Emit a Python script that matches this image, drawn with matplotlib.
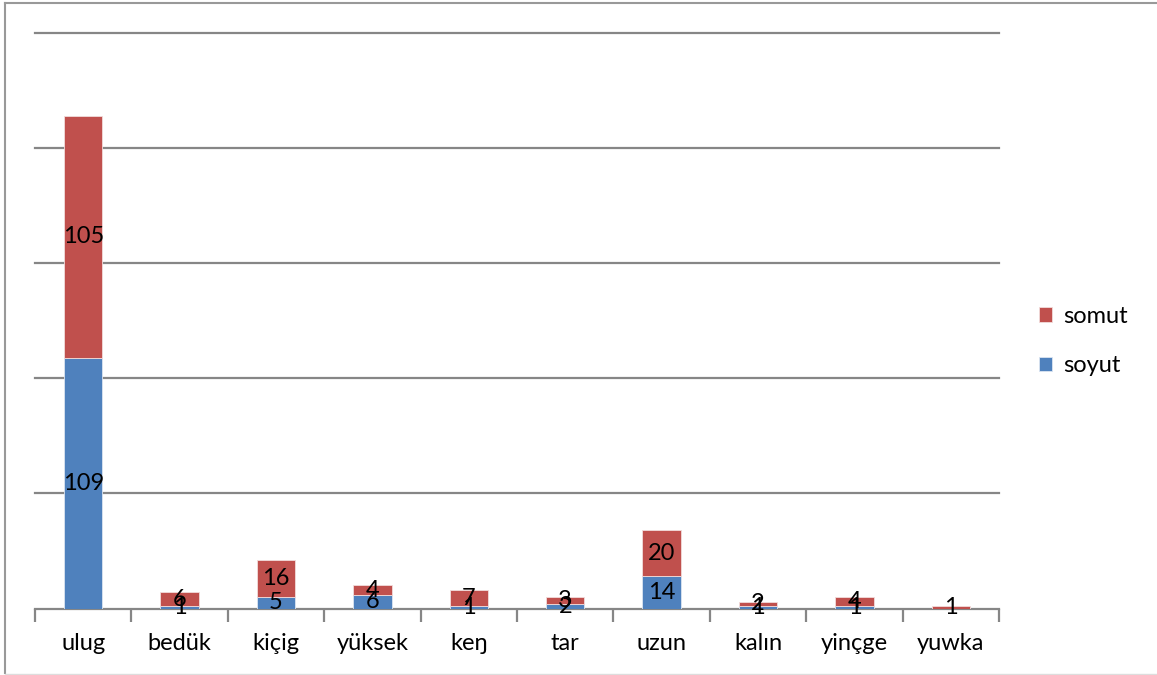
import matplotlib.pyplot as plt
from matplotlib.lines import Line2D
import numpy as np

plt.rcParams['font.family'] = ['Lato', 'DejaVu Sans']

categories = ['ulug', 'bedük', 'kiçig', 'yüksek', 'keŋ', 'tar', 'uzun', 'kalın', 'yinçge', 'yuwka']
soyut = [109, 1, 5, 6, 1, 2, 14, 1, 1, 0]
somut = [105, 6, 16, 4, 7, 3, 20, 2, 4, 1]

blue = '#4F81BD'
red = '#C0504D'
grid_c = '#868686'
fs = 17

fig = plt.figure(figsize=(11.57, 6.75), dpi=100)
ax = fig.add_axes([35 / 1157, 1 - 608.5 / 675, (999 - 35) / 1157, (608.5 - 33) / 675])

x = np.arange(len(categories))
w = 0.4
b1 = ax.bar(x, soyut, w, color=blue, edgecolor='#dbe5f1', linewidth=0.6, label='soyut', zorder=3)
b2 = ax.bar(x, somut, w, bottom=soyut, color=red, edgecolor='#f2dcdb', linewidth=0.6, label='somut', zorder=3)

# value labels in the middle of each segment
for i in range(len(categories)):
    if soyut[i] > 0:
        ax.text(x[i], soyut[i] / 2, str(soyut[i]), ha='center', va='center', fontsize=fs, zorder=5)
    ax.text(x[i], soyut[i] + somut[i] / 2, str(somut[i]), ha='center', va='center', fontsize=fs, zorder=5)

ax.set_xlim(-0.5, len(categories) - 0.5)
ax.set_ylim(0, 250)
ax.set_yticks([50, 100, 150, 200, 250])
ax.yaxis.grid(True, color=grid_c, linewidth=1.6, zorder=0)
for gl in ax.get_ygridlines():
    gl.set_clip_on(False)
ax.tick_params(axis='y', length=0, labelleft=False)

ax.set_xticks(x)
ax.set_xticklabels(categories, fontsize=fs)
ax.tick_params(axis='x', length=0, pad=18)
ax.set_xticks(np.arange(len(categories) + 1) - 0.5, minor=True)
ax.tick_params(axis='x', which='minor', length=9, width=1.6, color=grid_c, direction='out')

for s in ['top', 'right', 'left']:
    ax.spines[s].set_visible(False)
ax.spines['bottom'].set_color(grid_c)
ax.spines['bottom'].set_linewidth(1.6)

leg = fig.legend(handles=[b2, b1], labels=['somut', 'soyut'], loc='center left',
                 bbox_to_anchor=(1018 / 1157, 1 - 341 / 675), frameon=False, fontsize=fs,
                 handlelength=0.55, handleheight=0.55, handletextpad=0.45, labelspacing=1.2)

# chart border
fig.add_artist(Line2D([5 / 1157, 5 / 1157], [1 - 3 / 675, 1 - 673 / 675], color='#999999', lw=1.5))
fig.add_artist(Line2D([5 / 1157, 1], [1 - 3 / 675, 1 - 3 / 675], color='#999999', lw=1.5))
fig.add_artist(Line2D([5 / 1157, 1], [1 - 673.5 / 675, 1 - 673.5 / 675], color='#dddddd', lw=1))

fig.savefig('out.png', dpi=100)
